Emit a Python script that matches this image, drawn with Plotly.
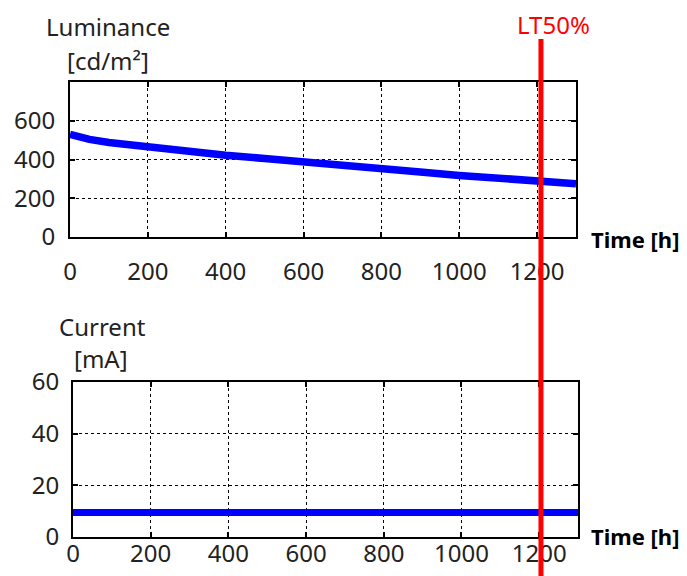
import plotly.graph_objects as go

# ---- data ----
LUM_TIME = [0, 25, 50, 100, 200, 300, 400, 500, 600, 700, 800, 900, 1000, 1100, 1200, 1300]
LUM_VALUES = [530, 515, 504, 488, 464, 442, 422, 405, 390, 372, 353, 336, 318, 302, 287, 275]
CUR_TIME = [0, 1300]
CUR_VALUES = [9.5, 9.5]
LT50_HOURS = 1210
X_TICKS = [0, 200, 400, 600, 800, 1000, 1200]
LUM_TICKS = [0, 200, 400, 600]
CUR_TICKS = [0, 20, 40, 60]

W, H = 687, 576
OFF = 8  # page body margin in the browser
FONT = "Noto Sans"
BLUE = "#0000ff"
RED = "#ff0000"

def px_x(p):
    return (p - OFF) / W

def px_y(p):
    return 1 - (p - OFF) / H

fig = go.Figure()
fig.add_trace(go.Scatter(x=LUM_TIME, y=LUM_VALUES, mode="lines",
                         line=dict(color=BLUE, width=7.5), xaxis="x", yaxis="y",
                         showlegend=False, hoverinfo="skip"))
fig.add_trace(go.Scatter(x=CUR_TIME, y=CUR_VALUES, mode="lines",
                         line=dict(color=BLUE, width=7), xaxis="x2", yaxis="y2",
                         showlegend=False, hoverinfo="skip"))

axis_common = dict(
    showline=True, linecolor="black", linewidth=2, mirror="ticks",
    ticks="inside", ticklen=5, tickcolor="black", tickwidth=1.5,
    showgrid=True, gridcolor="black", gridwidth=1, griddash="3px,3px",
    zeroline=False, tickfont=dict(family=FONT, size=24, color="#222"),
    fixedrange=True, automargin=False,
)

fig.update_layout(
    width=W, height=H,
    margin=dict(l=0, r=0, t=0, b=0, autoexpand=False),
    paper_bgcolor="white", plot_bgcolor="white",
    showlegend=False,
    xaxis=dict(domain=[px_x(70), px_x(576)], range=[0, 1300], tickvals=X_TICKS,
               anchor="y", ticklabelstandoff=12, **axis_common),
    yaxis=dict(domain=[px_y(237), px_y(82)], range=[0, 800], tickvals=LUM_TICKS,
               anchor="x", ticklabelstandoff=8, **axis_common),
    xaxis2=dict(domain=[px_x(73), px_x(578)], range=[0, 1300], tickvals=X_TICKS,
                anchor="y2", ticklabelstandoff=-6, **axis_common),
    yaxis2=dict(domain=[px_y(537), px_y(382)], range=[0, 60], tickvals=CUR_TICKS,
                anchor="x2", ticklabelstandoff=7, **axis_common),
)

# LT50 marker line spanning both panels
fig.add_shape(type="line", xref="x", yref="paper",
              x0=LT50_HOURS, x1=LT50_HOURS, y0=0, y1=px_y(39),
              line=dict(color=RED, width=5), layer="above")

def label(text, x, y, size=24, color="#222", bold=False):
    fig.add_annotation(text=f"<b>{text}</b>" if bold else text,
                       xref="paper", yref="paper", x=px_x(x), y=px_y(y),
                       xanchor="center", yanchor="middle", showarrow=False,
                       font=dict(family=FONT, size=size, color=color))

label("Luminance", 108, 26)
label("[cd/m²]", 108, 60)
label("LT50%", 553, 24, size=24, color=RED)
label("Time [h]", 635, 239, size=22, color="black", bold=True)
label("Current", 102, 326)
label("[mA]", 101, 358)
label("Time [h]", 635, 536, size=22, color="black", bold=True)

fig.write_html("out.html")
